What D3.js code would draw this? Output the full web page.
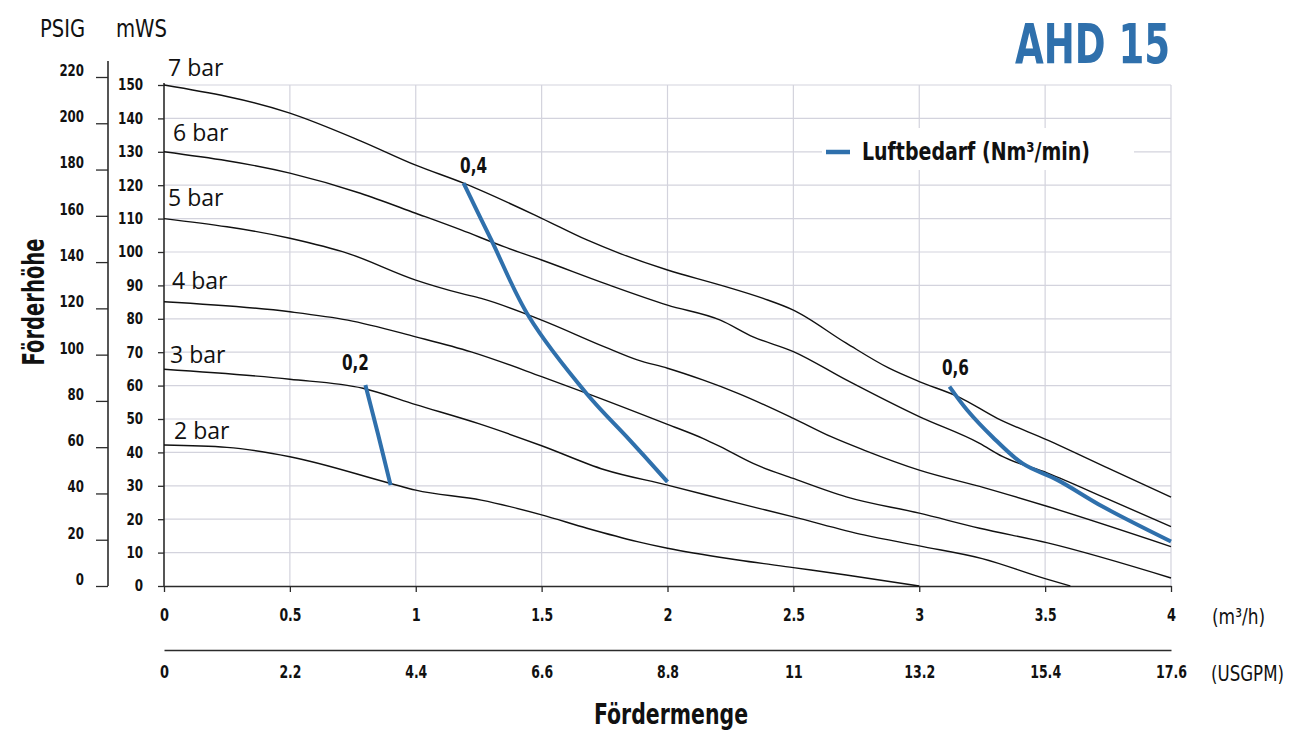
<!DOCTYPE html>
<html><head><meta charset="utf-8">
<script src="https://cdn.jsdelivr.net/npm/d3@7"></script>
<style>
body{margin:0;background:#fff;}
svg{display:block;}
.cond{font-family:"Liberation Sans Narrow","DejaVu Sans Condensed","Roboto Condensed",sans-serif;font-stretch:condensed;}
.reg{font-family:"Open Sans","Noto Sans",sans-serif;}
</style></head>
<body>
<svg id="c" width="1298" height="731"></svg>
<script>
// ---------------- data ----------------
const flowTicks = [0, 0.5, 1, 1.5, 2, 2.5, 3, 3.5, 4];
const flowLabels = ["0", "0.5", "1", "1.5", "2", "2.5", "3", "3.5", "4"];
const usgpmTicks = [0, 2.2, 4.4, 6.6, 8.8, 11, 13.2, 15.4, 17.6];
const usgpmLabels = ["0", "2.2", "4.4", "6.6", "8.8", "11", "13.2", "15.4", "17.6"];
const mwsTicks = [0, 10, 20, 30, 40, 50, 60, 70, 80, 90, 100, 110, 120, 130, 140, 150];
const psigTicks = [0, 20, 40, 60, 80, 100, 120, 140, 160, 180, 200, 220];

const curveNames = ["7 bar", "6 bar", "5 bar", "4 bar", "3 bar", "2 bar"];
const bar7 = [[0,150],[0.5,141.6],[0.78,133.3],[1,126],[1.19,120.6],[1.5,110.1],[1.68,103.6],[1.81,99.6],[2,94.6],[2.21,90.1],[2.38,86.1],[2.5,82.6],[2.71,72.7],[2.88,65.2],[3,61.2],[3.16,56.5],[3.31,50.2],[3.51,43.7],[3.75,35.3],[4,26.6]];
const bar6 = [[0,130],[0.5,123.6],[0.78,117.6],[1,111.6],[1.18,106.6],[1.35,101.6],[1.5,97.6],[1.75,90.6],[2,84.1],[2.21,79.6],[2.34,74.6],[2.5,70.2],[2.71,61.7],[3,50.7],[3.24,42.7],[3.33,38.8],[3.51,33.8],[3.75,26],[4,17.8]];
const bar5 = [[0,110],[0.5,104.1],[0.73,99.6],[1,91.6],[1.18,87.6],[1.26,86.1],[1.5,79.6],[1.75,71.6],[1.88,67.7],[2,65.2],[2.14,61.7],[2.28,57.7],[2.5,50.2],[2.65,44.7],[2.78,40.7],[3,34.7],[3.26,29.4],[3.51,23.8],[4,11.8]];
const bar4 = [[0,85.1],[0.5,82.1],[0.73,79.6],[1,74.6],[1.22,70.1],[1.5,62.7],[1.68,57.7],[2,48.4],[2.14,44.2],[2.21,41.7],[2.34,36.7],[2.5,32.2],[2.71,26.7],[3,21.8],[3.24,17.3],[3.51,12.9],[4,2.4]];
const bar3 = [[0,64.9],[0.5,61.9],[0.79,59.2],[1,54.3],[1.25,48.6],[1.5,42],[1.75,34.8],[2,30.2],[2.28,24.8],[2.5,20.7],[2.78,15.3],[3,12],[3.25,8.2],[3.5,2.2],[3.6,0]];
const bar2 = [[0,42.2],[0.25,41.5],[0.5,38.7],[0.9,30.7],[1,28.7],[1.26,25.7],[1.5,21.3],[1.68,17.3],[1.88,13.3],[2,11.3],[2.28,7.8],[2.5,5.5],[2.71,3.3],[3,0]];

const airNames = ["0,2", "0,4", "0,6"];
const air02 = [[0.8,60.2],[0.85,45.5],[0.9,30.2]];
const air04 = [[1.19,120.6],[1.3,103.6],[1.45,80.6],[1.68,57.5],[1.85,43.7],[2,31.2]];
const air06 = [[3.12,59.7],[3.19,52.7],[3.29,44.7],[3.41,36.7],[3.55,31.7],[3.73,23.7],[4,13.3]];

// ---------------- layout ----------------
const svg = d3.select("#c");
svg.append("rect").attr("width",1298).attr("height",731).attr("fill","#fff");
const x = d3.scaleLinear([0,4],[164,1171]);
const xUs = d3.scaleLinear([0,17.6],[164,1171]);
const y = d3.scaleLinear([0,150],[586,85]);
const yPsi = d3.scaleLinear([0,220],[586,77]);
const BLUE = "#2f70ac", GRID = "#d3d3dd", AX = "#2b2b2b";
const tl = (s,dw,pw) => s.split("").reduce((a,c)=>a+(/[0-9]/.test(c)?dw:pw),0);

// grid
const g = svg.append("g");
g.selectAll("line.v").data(flowTicks.slice(1)).join("line")
  .attr("x1",d=>x(d)).attr("x2",d=>x(d)).attr("y1",y(150)).attr("y2",y(0))
  .attr("stroke",GRID).attr("stroke-width",1.2);
g.selectAll("line.h").data(mwsTicks.slice(1)).join("line")
  .attr("x1",x(0)).attr("x2",x(4)).attr("y1",d=>y(d)).attr("y2",d=>y(d))
  .attr("stroke",GRID).attr("stroke-width",1.2);

// legend background
svg.append("rect").attr("x",822).attr("y",128).attr("width",312).attr("height",42).attr("fill","#fff");

// mWS axis
const axM = svg.append("g").attr("transform",`translate(${x(0)},0)`)
  .call(d3.axisLeft(y).tickValues(mwsTicks).tickSize(6).tickPadding(15).tickSizeOuter(0));
axM.select(".domain").attr("stroke",AX).attr("stroke-width",1.6).attr("d",`M0,${y(0)}V83`);
axM.selectAll(".tick line").attr("stroke",AX).attr("stroke-width",1.3);
axM.selectAll(".tick text").attr("class","cond").attr("font-size",15.5).attr("font-weight","bold").attr("fill","#111")
  .attr("textLength",d=>tl(String(d),8.3,4)).attr("lengthAdjust","spacingAndGlyphs");

// PSIG axis
const axP = svg.append("g").attr("transform","translate(108,0)")
  .call(d3.axisLeft(yPsi).tickValues(psigTicks).tickSize(12).tickPadding(12).tickSizeOuter(0));
axP.select(".domain").attr("stroke",AX).attr("stroke-width",1.6).attr("d",`M0,${yPsi(0)}V61`);
axP.selectAll(".tick line").attr("stroke",AX).attr("stroke-width",1.3);
axP.selectAll(".tick text").attr("class","cond").attr("font-size",15.5).attr("font-weight","bold").attr("fill","#111").attr("dy","-0.1em")
  .attr("textLength",d=>tl(String(d),8.2,4)).attr("lengthAdjust","spacingAndGlyphs");

// x axis (m3/h)
const axX = svg.append("g").attr("transform",`translate(0,${y(0)})`)
  .call(d3.axisBottom(x).tickValues(flowTicks).tickFormat((d,i)=>flowLabels[i]).tickSize(6).tickPadding(16).tickSizeOuter(0));
axX.select(".domain").attr("stroke",AX).attr("stroke-width",1.6);
axX.selectAll(".tick line").attr("stroke",AX).attr("stroke-width",1.3);
axX.selectAll(".tick text").attr("class","cond").attr("font-size",18).attr("font-weight","bold").attr("fill","#111")
  .attr("textLength",(d,i)=>tl(flowLabels[i],9,4)).attr("lengthAdjust","spacingAndGlyphs");

// x axis (USGPM)
const axU = svg.append("g").attr("transform","translate(0,650)")
  .call(d3.axisBottom(xUs).tickValues(usgpmTicks).tickFormat((d,i)=>usgpmLabels[i]).tickSize(0).tickPadding(15).tickSizeOuter(0));
axU.select(".domain").attr("stroke",AX).attr("stroke-width",1.6);
axU.selectAll(".tick text").attr("class","cond").attr("font-size",18).attr("font-weight","bold").attr("fill","#111")
  .attr("textLength",(d,i)=>tl(usgpmLabels[i],9,4)).attr("lengthAdjust","spacingAndGlyphs");

// curves
const line = d3.line().x(d=>x(d[0])).y(d=>y(d[1])).curve(d3.curveMonotoneX);
const curves = [bar7,bar6,bar5,bar4,bar3,bar2];
const labelDy = [-9,-11,-13,-13,-6,-6];
const labelDx = [4,9,4,8,6,10];
svg.append("g").selectAll("path").data(curves).join("path")
  .attr("d",line).attr("fill","none").attr("stroke","#111").attr("stroke-width",1.4);
svg.append("g").selectAll("text").data(curves).join("text")
  .attr("class","reg").attr("x",(d,i)=>x(d[0][0])+labelDx[i]).attr("y",(d,i)=>y(d[0][1])+labelDy[i])
  .attr("font-size",23).attr("fill","#111").text((d,i)=>curveNames[i]);

// air consumption lines
const airLine = d3.line().x(d=>x(d[0])).y(d=>y(d[1])).curve(d3.curveCatmullRom.alpha(0.5));
const airs = [air02,air04,air06];
const airDx = [-10,10,6], airDy = [-15,-10,-12];
svg.append("g").selectAll("path").data(airs).join("path")
  .attr("d",airLine).attr("fill","none").attr("stroke",BLUE).attr("stroke-width",4);
svg.append("g").selectAll("text").data(airs).join("text")
  .attr("class","cond").attr("x",(d,i)=>x(d[0][0])+airDx[i]).attr("y",(d,i)=>y(d[0][1])+airDy[i])
  .attr("text-anchor","middle").attr("font-size",21).attr("font-weight","bold").attr("fill","#111")
  .attr("textLength",27).attr("lengthAdjust","spacingAndGlyphs")
  .text((d,i)=>airNames[i]);

// legend
svg.append("line").attr("x1",826).attr("x2",850).attr("y1",152).attr("y2",152).attr("stroke",BLUE).attr("stroke-width",4.5);
svg.append("text").attr("class","cond").attr("x",862).attr("y",160).attr("font-size",25).attr("font-weight","bold").attr("fill","#111")
  .attr("textLength",228).attr("lengthAdjust","spacingAndGlyphs").text("Luftbedarf (Nm³/min)");

// titles
svg.append("text").attr("class","cond").attr("x",1170).attr("y",63).attr("text-anchor","end")
  .attr("font-size",56).attr("font-weight","bold").attr("fill",BLUE).attr("textLength",155).attr("lengthAdjust","spacingAndGlyphs").text("AHD 15");
svg.append("text").attr("class","cond").attr("x",40).attr("y",37).attr("font-size",24).attr("fill","#111")
  .attr("textLength",45).attr("lengthAdjust","spacingAndGlyphs").text("PSIG");
svg.append("text").attr("class","cond").attr("x",116).attr("y",37).attr("font-size",24).attr("fill","#111")
  .attr("textLength",51).attr("lengthAdjust","spacingAndGlyphs").text("mWS");
svg.append("text").attr("class","cond").attr("transform","translate(44,302) rotate(-90)").attr("text-anchor","middle")
  .attr("font-size",30).attr("font-weight","bold").attr("fill","#111")
  .attr("textLength",127).attr("lengthAdjust","spacingAndGlyphs").text("Förderhöhe");
svg.append("text").attr("class","cond").attr("x",671).attr("y",724).attr("text-anchor","middle")
  .attr("font-size",28).attr("font-weight","bold").attr("fill","#111")
  .attr("textLength",154).attr("lengthAdjust","spacingAndGlyphs").text("Fördermenge");
svg.append("text").attr("class","cond").attr("x",1212).attr("y",624).attr("font-size",21).attr("fill","#111")
  .attr("textLength",53).attr("lengthAdjust","spacingAndGlyphs").text("(m³/h)");
svg.append("text").attr("class","cond").attr("x",1211).attr("y",681).attr("font-size",21).attr("fill","#111")
  .attr("textLength",73).attr("lengthAdjust","spacingAndGlyphs").text("(USGPM)");
</script>
</body></html>
